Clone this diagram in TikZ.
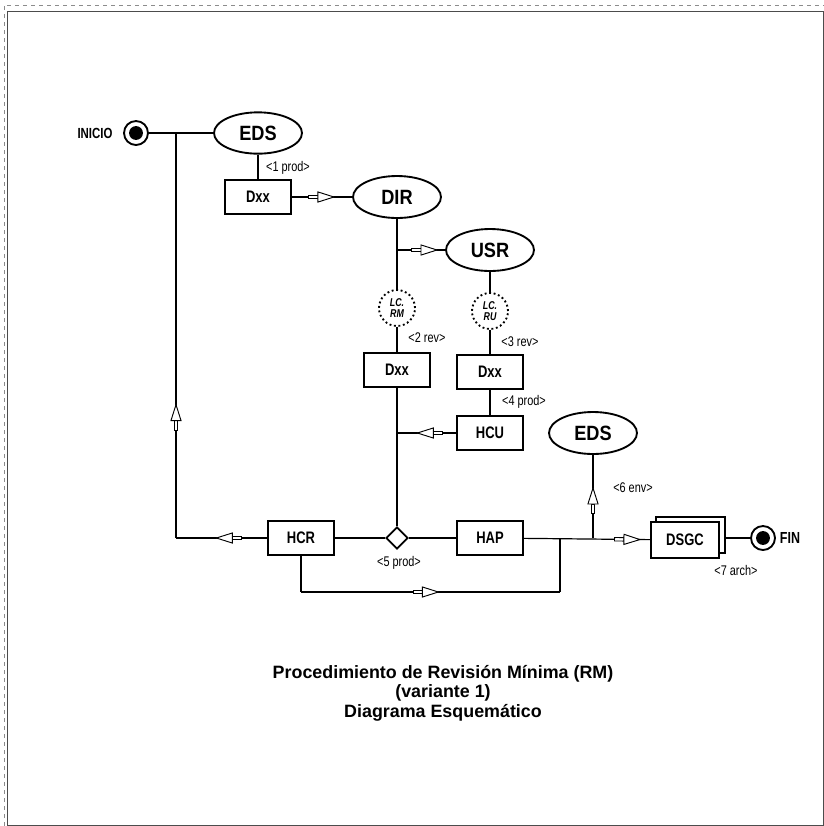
\documentclass[tikz,border=0pt]{standalone}
\usepackage{fontspec}
\setmainfont{Liberation Sans}
\newfontfamily\nfont[FakeStretch=0.78]{Liberation Sans}
\newfontfamily\mfont[FakeStretch=0.88]{Liberation Sans}
\usetikzlibrary{shapes.geometric,decorations.markings}
\newcommand\hollowtip{%
  \draw[fill=white,line width=0.6pt] (-19pt,-1.3pt) rectangle (-12pt,1.3pt);
  \draw[fill=white,line width=0.7pt,line join=miter] (-12pt,-3.8pt) -- (0pt,0pt) -- (-12pt,3.8pt) -- cycle;}
\begin{document}
\begin{tikzpicture}[x=0.75pt,y=-0.75pt,line width=0.9pt,
  box/.style={draw,line width=1.4pt,minimum width=49.5pt,minimum height=25.5pt,inner sep=0pt,fill=white,
    font=\nfont\bfseries\fontsize{12.5}{14}\selectfont},
  ell/.style={ellipse,draw,line width=1.4pt,minimum width=66pt,minimum height=31pt,inner sep=0pt,
    font=\mfont\bfseries\fontsize{15.5}{17}\selectfont},
  lc/.style={circle,draw,dotted,line width=1.4pt,minimum size=27pt,inner sep=0pt,align=center,
    font=\nfont\bfseries\itshape\fontsize{8.5}{8.5}\selectfont},
  lbl/.style={inner sep=0pt,font=\nfont\fontsize{10.5}{12}\selectfont},
  endc/.style={circle,draw,line width=1.4pt,minimum size=18pt,inner sep=0pt},
  endtxt/.style={inner sep=0pt,font=\nfont\bfseries\fontsize{12}{13}\selectfont},
  harrow/.style={postaction={decorate,decoration={markings,mark=at position #1 with {\hollowtip}}}}]
\useasboundingbox (0,0) rectangle (824,826);
% page frame
\draw[line width=0.6pt,black!70] (7.5,11) rectangle (823,825);
\draw[line width=0.5pt,black!45,dashed] (4,826) -- (4,5) -- (824,5);

% nodes
\node[endc] (ini) at (136,133) {};
\fill (ini.center) circle (5.2pt);
\node[endtxt,font=\nfont\bfseries\fontsize{11}{12}\selectfont] (initxt) at (95,133) {INICIO};
\node[ell] (eds1) at (258,133) {EDS};
\node[box] (dxx1) at (258,197) {Dxx};
\node[ell,minimum height=31.5pt] (dir) at (397,197) {DIR};
\node[ell,minimum height=31.5pt] (usr) at (490,250) {USR};
\node[lc] (lcrm) at (397,308) {LC.\\RM};
\node[lc] (lcru) at (490,311) {LC.\\RU};
\node[box] (dxx2) at (397,370) {Dxx};
\node[box] (dxx3) at (490,372) {Dxx};
\node[box] (hcu) at (490,433) {HCU};
\node[diamond,draw,line width=1.4pt,minimum width=16.5pt,minimum height=16.5pt,inner sep=0pt,aspect=1] (dia) at (397,538) {};
\node[box] (hcr) at (301,538) {HCR};
\node[box] (hap) at (490,538) {HAP};
\node[ell,minimum height=31.5pt] (eds2) at (593,433) {EDS};
\node[box,minimum width=51.75pt,minimum height=27pt] (dsgcb) at (690.5,535) {};
\node[box,minimum width=51pt,minimum height=27pt] (dsgc) at (685,540) {DSGC};
\node[endc] (fin) at (763,538) {};
\fill (fin.center) circle (5.2pt);
\node[endtxt] (fintxt) at (790,538) {FIN};

% junctions
\coordinate (j1) at (176,133);
\coordinate (j2) at (397,250);
\coordinate (j3) at (397,433);
\coordinate (j4) at (176,538);
\coordinate (j5) at (560,538);
\coordinate (j6) at (560,592);
\coordinate (j7) at (301,592);
\coordinate (j8) at (593,538);

% connectors
\draw (ini) -- (eds1);
\draw[harrow=100pt] (j4) -- (j1);
\draw[harrow=38pt] (hcr) -- (j4);
\draw (eds1) -- (dxx1);
\draw[harrow=31.5pt] (dxx1) -- (dir);
\draw (dir) -- (lcrm);
\draw[harrow=30pt] (j2) -- (usr);
\draw (usr) -- (lcru);
\draw (lcrm) -- (dxx2);
\draw (lcru) -- (dxx3);
\draw (dxx3) -- (hcu);
\draw (dxx2) -- (dia);
\draw[harrow=29pt] (hcu) -- (j3);
\draw (hcr) -- (dia);
\draw (dia) -- (hap);
\draw[harrow=87pt] (hap) -- (dsgc);
\draw[harrow=37.5pt] (j8) -- (eds2);
\draw (j5) -- (j6);
\draw (hcr) -- (j7);
\draw[harrow=103pt] (j7) -- (j6);
\draw (dsgcb.east |- fin) -- (fin);

% labels
\node[lbl] (l1) at (288,168) {<1 prod>};
\node[lbl] (l2) at (427,338) {<2 rev>};
\node[lbl] (l3) at (520,342) {<3 rev>};
\node[lbl] (l4) at (524,402) {<4 prod>};
\node[lbl] (l5) at (399,563) {<5 prod>};
\node[lbl] (l6) at (633,488) {<6 env>};
\node[lbl] (l7) at (736,570) {<7 arch>};

% title
\node[align=center,inner sep=0pt,font=\bfseries\fontsize{13.4}{14.6}\selectfont] (title) at (443,693)
  {Procedimiento de Revisión Mínima (RM)\\(variante 1)\\Diagrama Esquemático};
\end{tikzpicture}
\end{document}
